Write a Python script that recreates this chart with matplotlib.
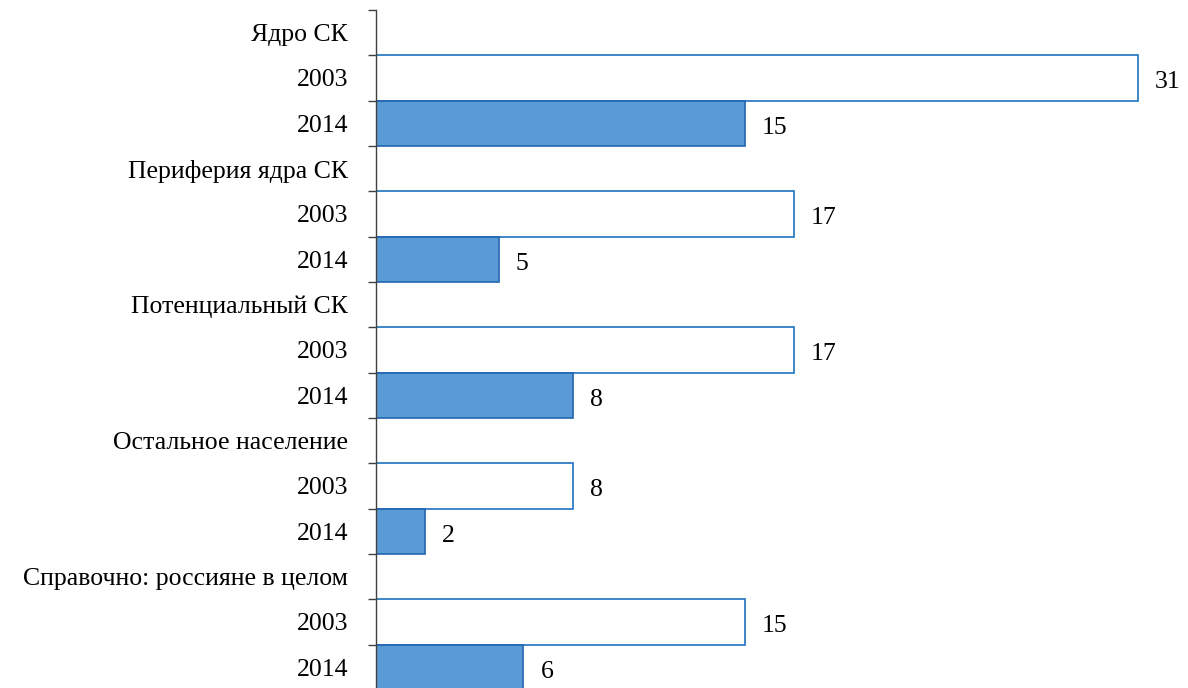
import matplotlib
matplotlib.use("Agg")
import matplotlib.pyplot as plt
import matplotlib.transforms as mtransforms

groups = ['Ядро СК', 'Периферия ядра СК', 'Потенциальный СК',
          'Остальное население', 'Справочно: россияне в целом']
years = ['2003', '2014']
v2003 = [31, 17, 17, 8, 15]
v2014 = [15, 5, 8, 2, 6]

plt.rcParams['font.family'] = ['Liberation Serif', 'DejaVu Serif']
fs = 18.5

W, H = 1188, 688
fig = plt.figure(figsize=(W / 100, H / 100), dpi=100)
x0 = 376
px_per_unit = (1138 - x0) / 31
ax = fig.add_axes([x0 / W, -2 / H, (W - x0) / W, 680 / H])

# nudge texts a couple of pixels down, like the original
shift = mtransforms.ScaledTranslation(0, -2 / 100, fig.dpi_scale_trans)

labels = []
for i, g in enumerate(groups):
    labels += [g] + years
    y = 3 * i
    ax.barh(y + 1, v2003[i], height=1.0, color='white', edgecolor='#1f73c0', linewidth=1.2)
    ax.barh(y + 2, v2014[i], height=1.0, color='#5b9bd5', edgecolor='#1f65b0', linewidth=1.2)
    ax.text(v2003[i] + 17 / px_per_unit, y + 1, str(v2003[i]), va='center_baseline', ha='left',
            fontsize=fs, transform=ax.transData + shift)
    ax.text(v2014[i] + 17 / px_per_unit, y + 2, str(v2014[i]), va='center_baseline', ha='left',
            fontsize=fs, transform=ax.transData + shift)

n = len(labels)
ax.set_yticks(range(n))
ax.set_yticklabels(labels, fontsize=fs, va='center_baseline')
for lab in ax.get_yticklabels():
    lab.set_transform(lab.get_transform() + shift)
ax.set_yticks([k - 0.5 for k in range(n + 1)], minor=True)
ax.tick_params(axis='y', which='major', length=0, pad=20)
ax.tick_params(axis='y', which='minor', length=6, width=1, color='#404040', direction='out')
ax.set_ylim(n - 0.5, -0.5)
ax.set_xlim(0, (W - x0) / px_per_unit)
ax.set_xticks([])
for s in ['top', 'right', 'bottom']:
    ax.spines[s].set_visible(False)
ax.spines['left'].set_color('#404040')
ax.spines['left'].set_linewidth(1)

fig.savefig('out.png', dpi=100)
